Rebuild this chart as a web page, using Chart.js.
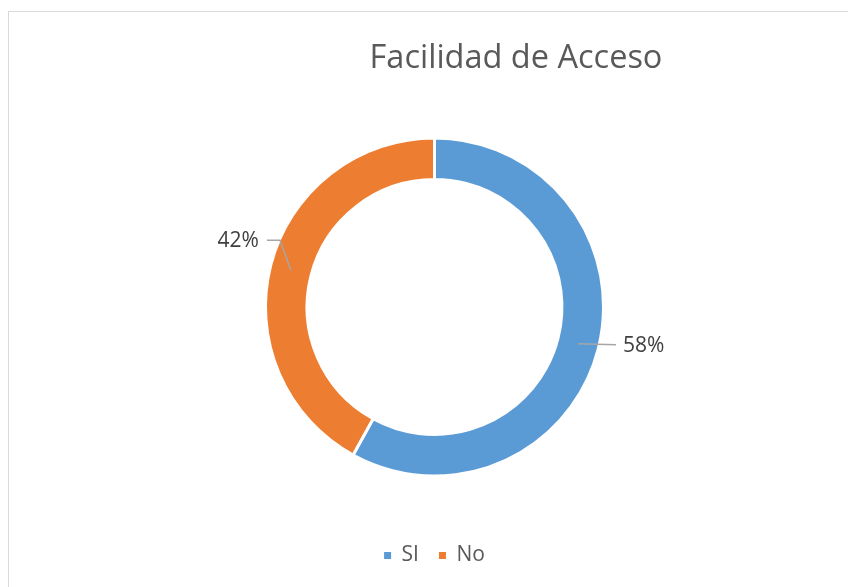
<!DOCTYPE html>
<html>
<head>
<meta charset="utf-8">
<script src="https://cdn.jsdelivr.net/npm/chart.js@4.4.1/dist/chart.umd.min.js"></script>
<style>
  html, body { margin: 0; padding: 0; background: #fff; overflow: hidden; }
  #frame { position: absolute; left: 8px; top: 11px; width: 1000px; height: 700px;
           border-left: 1px solid #d9d9d9; border-top: 1px solid #d9d9d9; }
  #chart { position: absolute; left: 0; top: 0; }
</style>
</head>
<body>
<div id="frame"></div>
<canvas id="chart" width="848" height="587"></canvas>
<script>
var labels = ['SI', 'No'];
var values = [58, 42];
var colors = ['#5B9BD5', '#ED7D31'];
var chartTitle = 'Facilidad de Acceso';

// title + percentage labels with leader lines
var extras = {
  id: 'extras',
  afterDatasetsDraw: function(chart) {
    var ctx = chart.ctx;
    var meta = chart.getDatasetMeta(0);
    var total = values.reduce(function(a, b) { return a + b; }, 0);
    ctx.save();
    ctx.fillStyle = '#595959';
    ctx.font = '32.5px "Open Sans"';
    ctx.textAlign = 'center';
    ctx.textBaseline = 'alphabetic';
    ctx.fillText(chartTitle, 516, 68);

    ctx.font = '21px "Open Sans"';
    ctx.textBaseline = 'middle';
    meta.data.forEach(function(arc, i) {
      var p = arc.getProps(['x', 'y', 'startAngle', 'endAngle', 'innerRadius', 'outerRadius'], true);
      var mid = (p.startAngle + p.endAngle) / 2;
      var r = (p.innerRadius + p.outerRadius) / 2;
      var ax = p.x + Math.cos(mid) * r;
      var ay = p.y + Math.sin(mid) * r;
      var txt = Math.round(values[i] / total * 100) + '%';
      ctx.strokeStyle = '#a6a6a6';
      ctx.lineWidth = 1.5;
      ctx.beginPath();
      ctx.moveTo(ax, ay);
      if (ax > p.x) {
        ctx.lineTo(ax + 38, ay + 1);
        ctx.stroke();
        ctx.fillStyle = '#404040';
        ctx.textAlign = 'left';
        ctx.fillText(txt, ax + 45, ay + 2);
      } else {
        ctx.lineTo(ax - 11, ay - 30);
        ctx.lineTo(ax - 24, ay - 30);
        ctx.stroke();
        ctx.fillStyle = '#404040';
        ctx.textAlign = 'right';
        ctx.fillText(txt, ax - 32, ay - 29);
      }
    });
    ctx.restore();
  }
};

var ctx = document.getElementById('chart').getContext('2d');
var myChart = new Chart(ctx, {
  type: 'doughnut',
  data: {
    labels: labels,
    datasets: [{
      data: values,
      backgroundColor: colors,
      borderColor: '#ffffff',
      borderWidth: 3
    }]
  },
  options: {
    responsive: false,
    animation: false,
    cutout: '75.4%',
    layout: { padding: { top: 89, bottom: 11, left: 264, right: 243 } },
    plugins: {
      tooltip: { enabled: false },
      legend: {
        position: 'bottom',
        labels: {
          boxWidth: 7,
          boxHeight: 7,
          padding: 20,
          color: '#595959',
          font: { family: 'Open Sans', size: 21 },
          generateLabels: function(chart) {
            var items = Chart.overrides.doughnut.plugins.legend.labels.generateLabels(chart);
            items.forEach(function(it) { it.lineWidth = 0; });
            return items;
          }
        }
      }
    }
  },
  plugins: [extras]
});
</script>
</body>
</html>
